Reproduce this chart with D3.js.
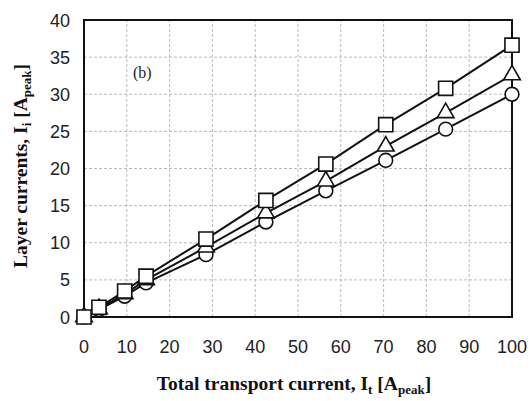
<!DOCTYPE html>
<html lang="en">
<head>
    <meta charset="UTF-8">
    <title>Layer currents</title>
    <script src="https://d3js.org/d3.v7.min.js"></script>
    <style>
        body {
            margin: 0;
            background: #fff;
        }
        svg {
            display: block;
        }
        .tick-label {
            font-family: "Liberation Sans", Arial, sans-serif;
            font-size: 18px;
            fill: #222;
        }
        .axis-title {
            font-family: "Liberation Serif", "Times New Roman", serif;
            font-weight: bold;
            font-size: 19.5px;
            fill: #111;
        }
    </style>
</head>
<body>
    <svg width="530" height="401"></svg>

    <script>
        // Data
        const transportCurrent = [0, 3.5, 9.5, 14.5, 28.5, 42.5, 56.5, 70.5, 84.5, 100];
        const squareLayer   = [0, 1.3, 3.5, 5.5, 10.5, 15.7, 20.6, 25.9, 30.8, 36.6];
        const triangleLayer = [0, 1.1, 3.1, 5.0, 9.4, 14.0, 18.3, 23.0, 27.5, 32.6];
        const circleLayer   = [0, 1.0, 2.8, 4.6, 8.4, 12.8, 17.0, 21.1, 25.3, 30.0];
        const xTicks = [0, 10, 20, 30, 40, 50, 60, 70, 80, 90, 100];
        const yTicks = [0, 5, 10, 15, 20, 25, 30, 35, 40];

        const margin = { top: 20, right: 18, bottom: 84, left: 84 };
        const width = 530;
        const height = 401;

        const svg = d3.select("svg");

        const x = d3.scaleLinear()
            .domain([0, 100])
            .range([margin.left, width - margin.right]);

        const y = d3.scaleLinear()
            .domain([0, 40])
            .range([height - margin.bottom, margin.top]);

        // Grid
        svg.append("g")
            .selectAll("line")
            .data(xTicks.slice(1, -1))
            .join("line")
            .attr("x1", d => x(d)).attr("x2", d => x(d))
            .attr("y1", y(0)).attr("y2", y(40))
            .attr("stroke", "#aaa")
            .attr("stroke-width", 0.8)
            .attr("stroke-dasharray", "3,2");

        svg.append("g")
            .selectAll("line")
            .data(yTicks.slice(1, -1))
            .join("line")
            .attr("x1", x(0)).attr("x2", x(100))
            .attr("y1", d => y(d)).attr("y2", d => y(d))
            .attr("stroke", "#aaa")
            .attr("stroke-width", 0.8)
            .attr("stroke-dasharray", "3,2");

        // Frame
        svg.append("rect")
            .attr("x", x(0))
            .attr("y", y(40))
            .attr("width", x(100) - x(0))
            .attr("height", y(0) - y(40))
            .attr("fill", "none")
            .attr("stroke", "#111")
            .attr("stroke-width", 2);

        // Tick labels
        svg.append("g")
            .selectAll("text")
            .data(xTicks)
            .join("text")
            .attr("class", "tick-label")
            .attr("x", d => x(d))
            .attr("y", y(0) + 36)
            .attr("text-anchor", "middle")
            .text(d => d);

        svg.append("g")
            .selectAll("text")
            .data(yTicks)
            .join("text")
            .attr("class", "tick-label")
            .attr("x", x(0) - 14)
            .attr("y", d => y(d) + 6.5)
            .attr("text-anchor", "end")
            .text(d => d);

        // Series
        const series = [
            { values: squareLayer, symbol: d3.symbolSquare, size: 200 },
            { values: triangleLayer, symbol: d3.symbolTriangle, size: 120 },
            { values: circleLayer, symbol: d3.symbolCircle, size: 150 }
        ];

        const line = d3.line()
            .x((d, i) => x(transportCurrent[i]))
            .y(d => y(d));

        series.forEach(s => {
            svg.append("path")
                .datum(s.values)
                .attr("d", line)
                .attr("fill", "none")
                .attr("stroke", "#111")
                .attr("stroke-width", 2);
        });

        series.slice().reverse().forEach(s => {
            svg.append("g")
                .selectAll("path")
                .data(s.values)
                .join("path")
                .attr("transform", (d, i) => `translate(${x(transportCurrent[i])},${y(d)})`)
                .attr("d", d3.symbol().type(s.symbol).size(s.size))
                .attr("fill", "#fff")
                .attr("stroke", "#111")
                .attr("stroke-width", 1.6);
        });

        // Panel label
        svg.append("text")
            .attr("x", 133)
            .attr("y", 78)
            .attr("font-family", "Liberation Serif, serif")
            .attr("font-size", 16)
            .attr("fill", "#222")
            .text("(b)");

        // Axis titles
        const xTitle = svg.append("text")
            .attr("class", "axis-title")
            .attr("x", 294)
            .attr("y", 390)
            .attr("text-anchor", "middle");
        xTitle.append("tspan").text("Total transport current, I");
        xTitle.append("tspan").attr("font-size", 13).attr("dy", 4).text("t");
        xTitle.append("tspan").attr("dy", -4).text(" [A");
        xTitle.append("tspan").attr("font-size", 13).attr("dy", 4).text("peak");
        xTitle.append("tspan").attr("dy", -4).text("]");

        const yTitle = svg.append("text")
            .attr("class", "axis-title")
            .attr("transform", "translate(27,166) rotate(-90)")
            .attr("text-anchor", "middle");
        yTitle.append("tspan").text("Layer currents, I");
        yTitle.append("tspan").attr("font-size", 13).attr("dy", 4).text("i");
        yTitle.append("tspan").attr("dy", -4).text(" [A");
        yTitle.append("tspan").attr("font-size", 13).attr("dy", 4).text("peak");
        yTitle.append("tspan").attr("dy", -4).text("]");
    </script>
</body>
</html>
